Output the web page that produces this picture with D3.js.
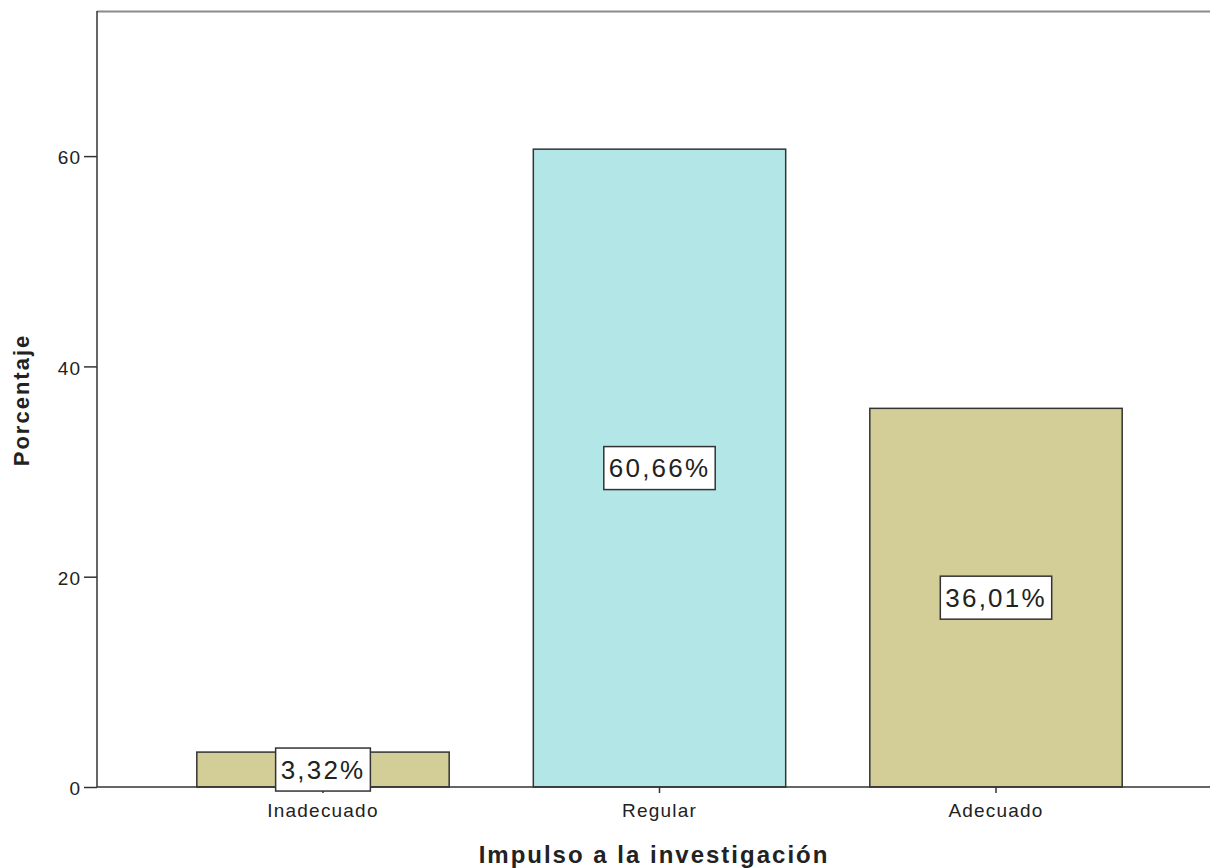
<!DOCTYPE html>
<html>
<head>
<meta charset="utf-8">
<script src="https://cdn.jsdelivr.net/npm/d3@7"></script>
<style>
  html, body { margin: 0; padding: 0; background: #fff; }
  svg { display: block; }
  text { font-family: "Liberation Sans", Arial, sans-serif; fill: #222; }
</style>
</head>
<body>
<svg id="chart" width="1210" height="868"></svg>
<script>
// Distribution of "Impulso a la investigación" levels (percent)
const categories = ["Inadecuado", "Regular", "Adecuado"];
const percentages = [3.32, 60.66, 36.01];
const barColors = ["#d3ce97", "#b3e6e6", "#d3ce97"];
const yTicks = [0, 20, 40, 60];
const xTitle = "Impulso a la investigación";
const yTitle = "Porcentaje";

const svg = d3.select("#chart");

const plot = { left: 97, top: 11, right: 1210, bottom: 787 };

const y = d3.scaleLinear()
  .domain([0, 73.8])
  .range([plot.bottom, plot.top]);

const x = d3.scaleBand()
  .domain(categories)
  .range([154.75, 1164.25])
  .paddingInner(0.25)
  .paddingOuter(0.125);

// top frame line
svg.append("line")
  .attr("x1", plot.left).attr("x2", plot.right)
  .attr("y1", plot.top + 0.5).attr("y2", plot.top + 0.5)
  .attr("stroke", "#8a8a8a").attr("stroke-width", 2);

// bars
svg.append("g").selectAll("rect")
  .data(categories)
  .join("rect")
  .attr("x", d => x(d))
  .attr("y", (d, i) => y(percentages[i]))
  .attr("width", x.bandwidth())
  .attr("height", (d, i) => y(0) - y(percentages[i]))
  .attr("fill", (d, i) => barColors[i])
  .attr("stroke", "#333")
  .attr("stroke-width", 1.5);

// y axis
const yAxis = svg.append("g")
  .attr("transform", `translate(${plot.left},0)`)
  .call(d3.axisLeft(y).tickValues(yTicks).tickSize(13).tickPadding(3).tickFormat(d3.format("d")));
yAxis.select(".domain").attr("stroke", "#333").attr("stroke-width", 1.5)
  .attr("d", `M0,${plot.bottom}V${plot.top}`);
yAxis.selectAll(".tick line").attr("stroke", "#333").attr("stroke-width", 1.5);
yAxis.selectAll(".tick text")
  .style("font-size", "19px").style("letter-spacing", "1px")
  .attr("fill", "#222").attr("dy", "0.4em");

// x axis
const xAxis = svg.append("g")
  .attr("transform", `translate(0,${plot.bottom})`)
  .call(d3.axisBottom(x).tickSize(6).tickPadding(11));
xAxis.select(".domain").attr("stroke", "#333").attr("stroke-width", 1.5)
  .attr("d", `M${plot.left},0H${plot.right}`);
xAxis.selectAll(".tick line").attr("stroke", "#333").attr("stroke-width", 1.5);
xAxis.selectAll(".tick text")
  .style("font-size", "19px").style("letter-spacing", "1.2px")
  .attr("fill", "#222");

// value labels in boxed frames
const fmt = v => v.toFixed(2).replace(".", ",") + "%";
const labels = svg.append("g").selectAll("g")
  .data(categories)
  .join("g")
  .attr("transform", (d, i) => {
    const cx = x(d) + x.bandwidth() / 2;
    const cy = (y(0) + y(percentages[i])) / 2;
    return `translate(${cx},${cy})`;
  });
labels.append("rect");
labels.append("text")
  .attr("text-anchor", "middle")
  .attr("dy", "0.36em")
  .style("font-size", "26px")
  .style("letter-spacing", "2.2px")
  .attr("fill", "#222")
  .text((d, i) => fmt(percentages[i]));
labels.each(function () {
  const g = d3.select(this);
  const bb = g.select("text").node().getBBox();
  const w = bb.width + 10, h = 43;
  g.select("rect")
    .attr("x", -w / 2).attr("y", -h / 2)
    .attr("width", w).attr("height", h)
    .attr("fill", "#fff").attr("stroke", "#333").attr("stroke-width", 1.5);
});

// axis titles
svg.append("text")
  .attr("x", 654).attr("y", 863)
  .attr("text-anchor", "middle")
  .style("font-size", "24px").style("font-weight", "bold").style("letter-spacing", "2px")
  .attr("fill", "#111")
  .text(xTitle);

svg.append("text")
  .attr("transform", "translate(29,400) rotate(-90)")
  .attr("text-anchor", "middle")
  .style("font-size", "22px").style("font-weight", "bold").style("letter-spacing", "2px")
  .attr("fill", "#111")
  .text(yTitle);
</script>
</body>
</html>
